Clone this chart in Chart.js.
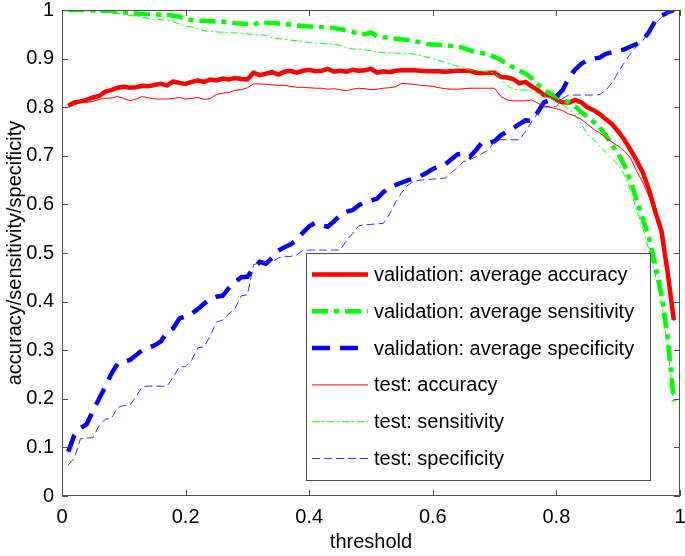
<!DOCTYPE html>
<html>
<head>
<meta charset="UTF-8">
<title>threshold curves</title>
<script src="https://cdn.jsdelivr.net/npm/chart.js@4.4.1/dist/chart.umd.min.js"></script>
<style>
    body { margin: 0; background: #fff; }
    #wrap { width: 685px; height: 556px; }
</style>
</head>
<body>
<div id="wrap"><canvas id="curves" width="685" height="556"></canvas></div>
<script>
// threshold values (x axis)
const thresholds = [
    0.01, 0.02, 0.03, 0.04, 0.05, 0.06, 0.07, 0.08, 0.09, 0.10,
    0.11, 0.12, 0.13, 0.14, 0.15, 0.16, 0.17, 0.18, 0.19, 0.20,
    0.21, 0.22, 0.23, 0.24, 0.25, 0.26, 0.27, 0.28, 0.29, 0.30,
    0.31, 0.32, 0.33, 0.34, 0.35, 0.36, 0.37, 0.38, 0.39, 0.40,
    0.41, 0.42, 0.43, 0.44, 0.45, 0.46, 0.47, 0.48, 0.49, 0.50,
    0.51, 0.52, 0.53, 0.54, 0.55, 0.56, 0.57, 0.58, 0.59, 0.60,
    0.61, 0.62, 0.63, 0.64, 0.65, 0.66, 0.67, 0.68, 0.69, 0.70,
    0.71, 0.72, 0.73, 0.74, 0.75, 0.76, 0.77, 0.78, 0.79, 0.80,
    0.81, 0.82, 0.83, 0.84, 0.85, 0.86, 0.87, 0.88, 0.89, 0.90,
    0.91, 0.92, 0.93, 0.94, 0.95, 0.96, 0.97, 0.98, 0.99
];

const valAccuracy = [
    0.803, 0.810, 0.812, 0.815, 0.820, 0.823, 0.832, 0.835, 0.840, 0.842,
    0.840, 0.841, 0.844, 0.843, 0.846, 0.848, 0.845, 0.853, 0.850, 0.848,
    0.852, 0.855, 0.852, 0.857, 0.855, 0.859, 0.857, 0.860, 0.858, 0.857,
    0.871, 0.866, 0.869, 0.872, 0.867, 0.873, 0.875, 0.871, 0.875, 0.877,
    0.874, 0.875, 0.879, 0.873, 0.875, 0.873, 0.877, 0.875, 0.876, 0.879,
    0.871, 0.874, 0.872, 0.875, 0.876, 0.876, 0.876, 0.875, 0.874, 0.874,
    0.874, 0.873, 0.874, 0.875, 0.875, 0.875, 0.871, 0.870, 0.871, 0.871,
    0.862, 0.861, 0.858, 0.849, 0.852, 0.843, 0.835, 0.825, 0.824, 0.815,
    0.810, 0.809, 0.815, 0.810, 0.800, 0.794, 0.786, 0.775, 0.765, 0.750,
    0.733, 0.712, 0.690, 0.665, 0.630, 0.585, 0.545, 0.460, 0.362
];

const valSensitivity = [
    1.000, 1.000, 1.000, 1.000, 0.999, 0.999, 0.998, 0.998, 0.996, 0.995,
    0.994, 0.993, 0.992, 0.991, 0.991, 0.990, 0.990, 0.988, 0.986, 0.982,
    0.979, 0.978, 0.978, 0.977, 0.976, 0.976, 0.975, 0.973, 0.972, 0.971,
    0.969, 0.976, 0.974, 0.973, 0.972, 0.971, 0.970, 0.968, 0.967, 0.966,
    0.965, 0.965, 0.964, 0.963, 0.961, 0.958, 0.955, 0.951, 0.950, 0.954,
    0.946, 0.944, 0.943, 0.941, 0.940, 0.938, 0.936, 0.933, 0.930, 0.929,
    0.928, 0.928, 0.926, 0.924, 0.922, 0.917, 0.913, 0.911, 0.909, 0.903,
    0.897, 0.890, 0.882, 0.875, 0.869, 0.860, 0.847, 0.835, 0.828, 0.822,
    0.816, 0.810, 0.802, 0.790, 0.780, 0.770, 0.758, 0.742, 0.722, 0.704,
    0.680, 0.648, 0.608, 0.570, 0.530, 0.475, 0.415, 0.325, 0.195
];

const valSpecificity = [
    0.091, 0.125, 0.140, 0.148, 0.175, 0.200, 0.225, 0.252, 0.272, 0.276,
    0.280, 0.290, 0.300, 0.305, 0.310, 0.318, 0.337, 0.345, 0.365, 0.370,
    0.375, 0.385, 0.396, 0.405, 0.410, 0.412, 0.428, 0.440, 0.450, 0.451,
    0.470, 0.482, 0.478, 0.490, 0.505, 0.512, 0.518, 0.527, 0.542, 0.555,
    0.562, 0.557, 0.554, 0.565, 0.578, 0.585, 0.588, 0.598, 0.605, 0.608,
    0.612, 0.625, 0.636, 0.640, 0.645, 0.650, 0.653, 0.658, 0.665, 0.673,
    0.678, 0.682, 0.693, 0.703, 0.705, 0.698, 0.712, 0.728, 0.727, 0.730,
    0.742, 0.750, 0.757, 0.765, 0.773, 0.772, 0.790, 0.810, 0.815, 0.822,
    0.835, 0.860, 0.877, 0.889, 0.897, 0.900, 0.902, 0.910, 0.913, 0.916,
    0.919, 0.925, 0.930, 0.938, 0.955, 0.978, 0.988, 0.995, 1.000
];

const testAccuracy = [
    0.800, 0.805, 0.810, 0.810, 0.812, 0.816, 0.818, 0.819, 0.822, 0.818,
    0.813, 0.817, 0.822, 0.819, 0.817, 0.817, 0.817, 0.818, 0.820, 0.817,
    0.818, 0.820, 0.816, 0.818, 0.826, 0.829, 0.830, 0.835, 0.836, 0.840,
    0.848, 0.848, 0.847, 0.846, 0.845, 0.845, 0.843, 0.841, 0.841, 0.840,
    0.839, 0.839, 0.837, 0.838, 0.836, 0.834, 0.837, 0.839, 0.838, 0.836,
    0.837, 0.839, 0.840, 0.842, 0.849, 0.848, 0.847, 0.845, 0.844, 0.843,
    0.840, 0.838, 0.837, 0.837, 0.838, 0.839, 0.839, 0.839, 0.839, 0.839,
    0.822, 0.815, 0.813, 0.813, 0.813, 0.815, 0.808, 0.801, 0.800, 0.797,
    0.793, 0.786, 0.782, 0.775, 0.765, 0.755, 0.747, 0.737, 0.728, 0.720,
    0.710, 0.695, 0.668, 0.645, 0.615, 0.578, 0.538, 0.455, 0.360
];

const testSensitivity = [
    1.000, 1.000, 1.000, 1.000, 1.000, 0.998, 0.996, 0.994, 0.992, 0.990,
    0.989, 0.987, 0.985, 0.982, 0.981, 0.980, 0.979, 0.976, 0.971, 0.967,
    0.965, 0.961, 0.957, 0.956, 0.955, 0.954, 0.953, 0.953, 0.952, 0.951,
    0.949, 0.949, 0.948, 0.943, 0.941, 0.940, 0.938, 0.937, 0.935, 0.933,
    0.932, 0.931, 0.930, 0.930, 0.927, 0.923, 0.920, 0.919, 0.918, 0.916,
    0.913, 0.912, 0.912, 0.911, 0.911, 0.911, 0.909, 0.906, 0.903, 0.900,
    0.896, 0.892, 0.888, 0.884, 0.880, 0.877, 0.875, 0.874, 0.873, 0.870,
    0.858, 0.845, 0.837, 0.836, 0.835, 0.833, 0.829, 0.824, 0.818, 0.812,
    0.805, 0.795, 0.785, 0.765, 0.745, 0.733, 0.720, 0.707, 0.694, 0.682,
    0.660, 0.628, 0.588, 0.550, 0.505, 0.455, 0.395, 0.310, 0.187
];

const testSpecificity = [
    0.064, 0.078, 0.118, 0.119, 0.120, 0.145, 0.158, 0.160, 0.182, 0.186,
    0.187, 0.205, 0.225, 0.226, 0.226, 0.226, 0.226, 0.245, 0.266, 0.266,
    0.280, 0.305, 0.307, 0.330, 0.358, 0.362, 0.375, 0.386, 0.412, 0.414,
    0.476, 0.480, 0.481, 0.482, 0.490, 0.493, 0.493, 0.496, 0.506, 0.506,
    0.506, 0.506, 0.506, 0.506, 0.506, 0.525, 0.540, 0.556, 0.558, 0.559,
    0.560, 0.561, 0.580, 0.605, 0.625, 0.640, 0.648, 0.650, 0.651, 0.652,
    0.653, 0.654, 0.665, 0.676, 0.688, 0.692, 0.698, 0.705, 0.712, 0.730,
    0.733, 0.733, 0.733, 0.733, 0.750, 0.770, 0.788, 0.801, 0.801, 0.801,
    0.818, 0.825, 0.825, 0.825, 0.825, 0.825, 0.826, 0.835, 0.850, 0.872,
    0.892, 0.910, 0.925, 0.937, 0.955, 0.972, 0.985, 0.995, 1.000
];

const xTickLabels = ['0', '0.2', '0.4', '0.6', '0.8', '1'];
const yTickLabels = ['0', '0.1', '0.2', '0.3', '0.4', '0.5', '0.6', '0.7', '0.8', '0.9', '1'];

const FONT = 'Arial, "Liberation Sans", Helvetica, sans-serif';
const AXIS_COLOR = '#4d4d4d';

function points(values) {
    return thresholds.map((t, i) => ({ x: t, y: values[i] }));
}

// MATLAB-like box with inward ticks on all four sides
const boxPlugin = {
    id: 'box',
    afterDraw(chart) {
        const { ctx, chartArea: a, scales } = chart;
        const len = 6;
        ctx.save();
        ctx.strokeStyle = AXIS_COLOR;
        ctx.lineWidth = 1;
        ctx.strokeRect(a.left + 0.5, a.top + 0.5, a.right - a.left - 1, a.bottom - a.top - 1);
        ctx.beginPath();
        scales.x.ticks.forEach(t => {
            const px = Math.round(scales.x.getPixelForValue(t.value)) + 0.5;
            ctx.moveTo(px, a.bottom); ctx.lineTo(px, a.bottom - len);
            ctx.moveTo(px, a.top); ctx.lineTo(px, a.top + len);
        });
        scales.y.ticks.forEach(t => {
            const py = Math.round(scales.y.getPixelForValue(t.value)) + 0.5;
            ctx.moveTo(a.left, py); ctx.lineTo(a.left + len, py);
            ctx.moveTo(a.right, py); ctx.lineTo(a.right - len, py);
        });
        ctx.stroke();
        ctx.restore();
    }
};

// legend box inside the plot, lower right
const legendPlugin = {
    id: 'boxLegend',
    afterDatasetsDraw(chart) {
        const { ctx, chartArea: a } = chart;
        const left = a.left + 244, top = a.top + 243, w = 344, h = 227;
        ctx.save();
        ctx.fillStyle = '#fff';
        ctx.fillRect(left, top, w, h);
        ctx.strokeStyle = AXIS_COLOR;
        ctx.lineWidth = 1;
        ctx.strokeRect(left + 0.5, top + 0.5, w, h);
        chart.data.datasets.forEach((ds, i) => {
            const y = top + 21.5 + i * 36.8;
            ctx.beginPath();
            ctx.strokeStyle = ds.borderColor;
            ctx.lineWidth = ds.borderWidth;
            ctx.setLineDash(ds.borderDash || []);
            ctx.moveTo(left + 6, y);
            ctx.lineTo(left + 62, y);
            ctx.stroke();
            ctx.setLineDash([]);
            ctx.fillStyle = '#000';
            ctx.font = '20px ' + FONT;
            ctx.textBaseline = 'middle';
            ctx.fillText(ds.label, left + 68, y + 1);
        });
        ctx.restore();
    }
};

new Chart(document.getElementById('curves'), {
    type: 'line',
    data: {
        datasets: [
            { label: 'validation: average accuracy', data: points(valAccuracy),
              borderColor: '#ff0000', borderWidth: 4.5, order: 6 },
            { label: 'validation: average sensitivity', data: points(valSensitivity),
              borderColor: '#00ff00', borderWidth: 4.5, borderDash: [16, 6, 5, 6], order: 5 },
            { label: 'validation: average specificity', data: points(valSpecificity),
              borderColor: '#0000ff', borderWidth: 4.5, borderDash: [18, 10], order: 4 },
            { label: 'test: accuracy', data: points(testAccuracy),
              borderColor: '#ff0000', borderWidth: 1, order: 3 },
            { label: 'test: sensitivity', data: points(testSensitivity),
              borderColor: '#00ff00', borderWidth: 1, borderDash: [7, 3, 2, 3], order: 2 },
            { label: 'test: specificity', data: points(testSpecificity),
              borderColor: '#3333ff', borderWidth: 1, borderDash: [8, 4], order: 1 }
        ]
    },
    options: {
        responsive: false,
        animation: false,
        devicePixelRatio: 1,
        layout: { padding: { top: 10, right: 5, left: 0, bottom: 0 } },
        elements: { point: { radius: 0 }, line: { tension: 0, fill: false } },
        plugins: { legend: { display: false }, tooltip: { enabled: false } },
        scales: {
            x: {
                type: 'linear', min: 0, max: 1,
                border: { display: false },
                grid: { display: false, drawTicks: false },
                ticks: {
                    stepSize: 0.2, padding: 9, color: '#000',
                    font: { family: FONT, size: 20 },
                    maxRotation: 0,
                    callback: (v, i) => xTickLabels[i]
                },
                title: { display: true, text: 'threshold', color: '#000',
                         font: { family: FONT, size: 20 }, padding: { top: 0, bottom: 2 } },
                afterFit: s => { s.height = 60; s.paddingLeft = 0; s.paddingRight = 0; }
            },
            y: {
                min: 0, max: 1,
                border: { display: false },
                grid: { display: false, drawTicks: false },
                ticks: {
                    stepSize: 0.1, padding: 8, color: '#000',
                    font: { family: FONT, size: 20 },
                    callback: (v, i) => yTickLabels[i]
                },
                title: { display: true, text: 'accuracy/sensitivity/specificity', color: '#000',
                         font: { family: FONT, size: 20 }, padding: { top: 3, bottom: 0 } },
                afterFit: s => { s.width = 62; s.paddingTop = 0; s.paddingBottom = 0; }
            }
        }
    },
    plugins: [boxPlugin, legendPlugin]
});
</script>
</body>
</html>
